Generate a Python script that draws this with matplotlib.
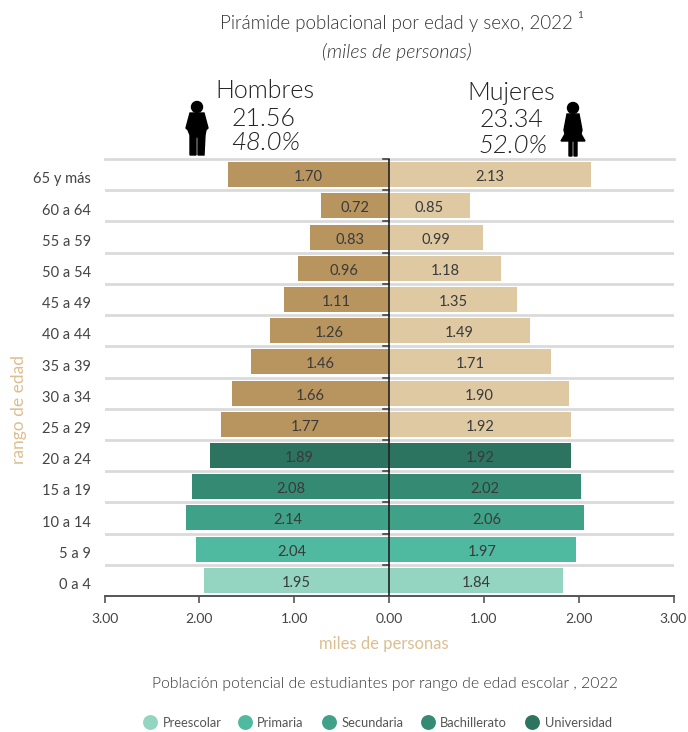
#!/usr/bin/env python3
"""Pirámide poblacional por edad y sexo, 2022"""

import matplotlib
matplotlib.use('Agg')
import matplotlib.pyplot as plt
from matplotlib.patches import Circle, Polygon

W, H = 688, 732

edades = ['0 a 4', '5 a 9', '10 a 14', '15 a 19', '20 a 24', '25 a 29', '30 a 34',
          '35 a 39', '40 a 44', '45 a 49', '50 a 54', '55 a 59', '60 a 64', '65 y más']
hombres = [1.95, 2.04, 2.14, 2.08, 1.89, 1.77, 1.66, 1.46, 1.26, 1.11, 0.96, 0.83, 0.72, 1.70]
mujeres = [1.84, 1.97, 2.06, 2.02, 1.92, 1.92, 1.90, 1.71, 1.49, 1.35, 1.18, 0.99, 0.85, 2.13]

PREESCOLAR = '#94D5C2'
PRIMARIA = '#4FBA9F'
SECUNDARIA = '#3FA288'
BACHILLERATO = '#358A74'
UNIVERSIDAD = '#2C7460'
HOMBRE_RESTO = '#B8955F'
MUJER_RESTO = '#DEC9A3'

escolar = [PREESCOLAR, PRIMARIA, SECUNDARIA, BACHILLERATO, UNIVERSIDAD]
niveles = ['Preescolar', 'Primaria', 'Secundaria', 'Bachillerato', 'Universidad']
colores_h = escolar + [HOMBRE_RESTO] * 9
colores_m = escolar + [MUJER_RESTO] * 9

ticks_x = [-3, -2, -1, 0, 1, 2, 3]
tick_labels_x = ['3.00', '2.00', '1.00', '0.00', '1.00', '2.00', '3.00']

GRIS = '#444444'
ARENA = '#DDBE90'

plt.rcParams['font.family'] = ['Lato', 'DejaVu Sans']

fig = plt.figure(figsize=(W / 100, H / 100), dpi=100)


def texto(x, y, s, **kw):
    # posiciones en pixeles de la imagen
    kw.setdefault('ha', 'center')
    kw.setdefault('va', 'center')
    kw.setdefault('color', GRIS)
    fig.text(x / W, 1 - y / H, s, **kw)


ax = fig.add_axes([104.5 / W, 1 - 596 / H, 569 / W, 437 / H])
pos = range(len(edades))
ax.barh(pos, [-v for v in hombres], height=0.8, color=colores_h, zorder=2)
ax.barh(pos, mujeres, height=0.8, color=colores_m, zorder=2)
for i in pos:
    ax.text(-hombres[i] / 2, i - 0.08, f'{hombres[i]:.2f}', ha='center', va='center', fontsize=10.5, color='#3a3a3a', zorder=3)
    ax.text(mujeres[i] / 2, i - 0.08, f'{mujeres[i]:.2f}', ha='center', va='center', fontsize=10.5, color='#3a3a3a', zorder=3)

ax.set_xlim(-3, 3)
ax.set_ylim(-0.5, 13.5)
ax.set_xticks(ticks_x, tick_labels_x, fontsize=10, color=GRIS)
ax.set_yticks([])
ax.tick_params(axis='x', length=5, width=1.2, color='#555555', pad=7)

for sp in ['top', 'left', 'right']:
    ax.spines[sp].set_visible(False)
ax.spines['bottom'].set_color('#555555')
ax.spines['bottom'].set_linewidth(1.4)

# lineas horizontales entre grupos
for i in pos:
    if i > 0:
        ax.axhline(i - 0.5, color='#DADADA', linewidth=2, zorder=1)
        ax.plot([-0.06, 0], [i - 0.5, i - 0.5], color='#333333', linewidth=1.1, zorder=4)
ax.axhline(13.5, color='#DADADA', linewidth=2, zorder=1, clip_on=False)
ax.plot([-0.06, 0], [13.5, 13.5], color='#333333', linewidth=1.1, zorder=4, clip_on=False)
ax.axvline(0, color='#222222', linewidth=1.2, zorder=4)

for i, e in enumerate(edades):
    texto(91, 585 - i * 31.2, e, ha='right', fontsize=10.5)

texto(19, 410, 'rango de edad', rotation=90, fontsize=12.5, color=ARENA)
texto(384, 644, 'miles de personas', fontsize=12, color=ARENA)

texto(396, 24, 'Pirámide poblacional por edad y sexo, 2022', fontsize=13.5, fontweight=300, color='#333333')
texto(577, 16, '1', fontsize=7, ha='left')
texto(397, 52, '(miles de personas)', fontsize=14, style='italic', fontweight=300, color='#333333')

texto(265, 91, 'Hombres', fontsize=18, fontweight=300, color='#222222')
texto(263, 119, '21.56', fontsize=18, fontweight=300, color='#222222')
texto(266, 143, '48.0%', fontsize=18.5, style='italic', fontweight=300, color='#222222')
texto(511, 93, 'Mujeres', fontsize=18, fontweight=300, color='#222222')
texto(511, 120, '23.34', fontsize=18, fontweight=300, color='#222222')
texto(513, 146, '52.0%', fontsize=18.5, style='italic', fontweight=300, color='#222222')

texto(385, 684, 'Población potencial de estudiantes por rango de edad escolar , 2022', fontsize=11.3, fontweight=300, color='#333333')

# capa en pixeles para iconos y leyenda
capa = fig.add_axes([0, 0, 1, 1], zorder=5)
capa.set_xlim(0, W)
capa.set_ylim(H, 0)
capa.axis('off')

# hombre
capa.add_patch(Circle((197, 107), 5.5, color='black'))
capa.add_patch(Polygon([(190, 113), (204, 113), (208, 128), (206, 130), (205, 135), (204, 155),
                        (198, 155), (198, 137), (196, 137), (196, 155), (190, 155), (190, 135),
                        (188, 130), (186, 128)], color='black'))
# mujer
capa.add_patch(Circle((573, 108), 5.5, color='black'))
capa.add_patch(Polygon([(567, 114), (579, 114), (582, 130), (581, 134), (585, 141), (577, 141),
                        (577, 156), (574, 156), (574, 141), (572, 141), (572, 156), (569, 156),
                        (569, 141), (561, 141), (565, 134), (564, 130)], color='black'))

xs_circ = [150, 245, 329, 428, 532]
xs_text = [163, 257, 342, 440, 545]
for n, c, xc, xt in zip(niveles, escolar, xs_circ, xs_text):
    capa.scatter([xc], [722], s=115, color=c, linewidths=0)
    capa.text(xt, 723, n, ha='left', va='center', fontsize=9.3, color='#555555')

fig.savefig('out.png', dpi=100)
plt.close(fig)
